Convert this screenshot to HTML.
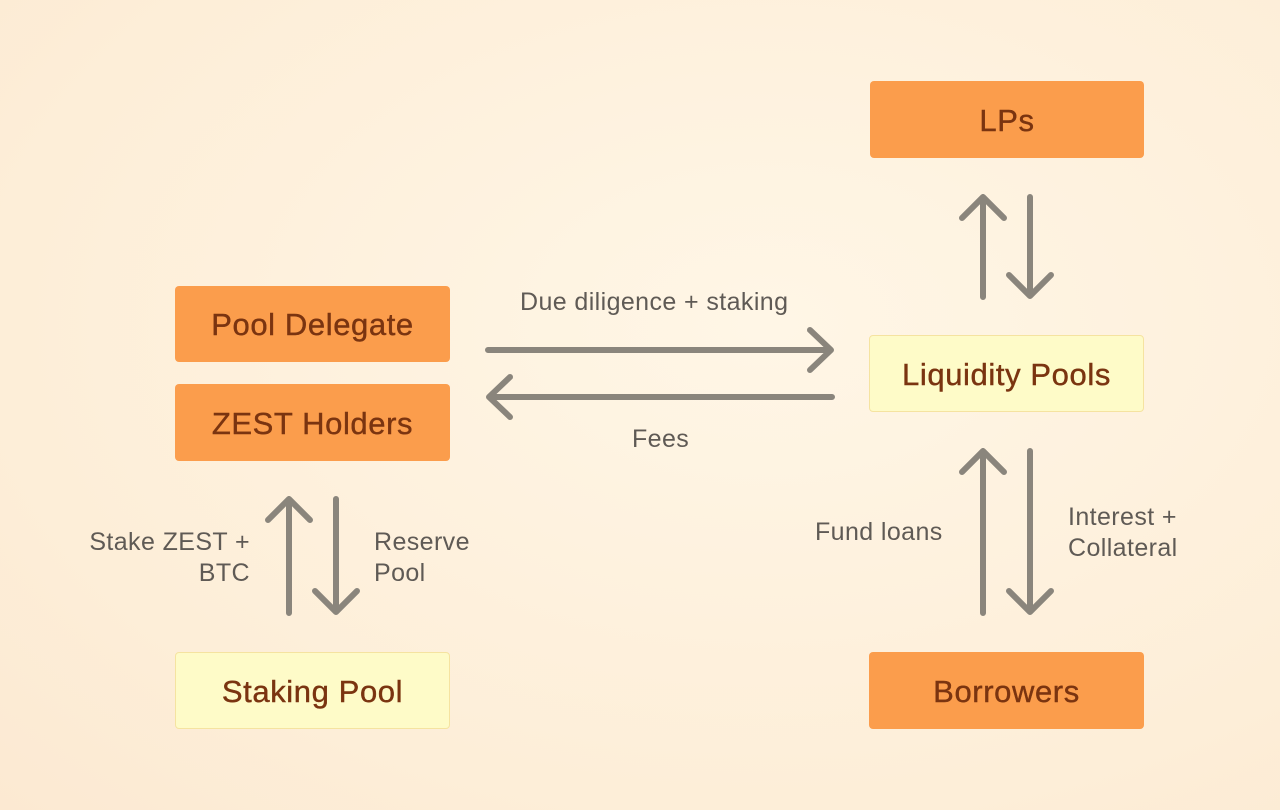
<!DOCTYPE html>
<html><head><style>
body{margin:0;width:1280px;height:810px;overflow:hidden;background:radial-gradient(ellipse at 60% 40%,#fff6e6 0%,#fdeed8 70%,#fce9d2 100%);font-family:"Liberation Sans",sans-serif;position:relative}
.b{position:absolute;display:flex;align-items:center;justify-content:center;font-size:31px;letter-spacing:0.6px;color:#7a3410;border-radius:4px;box-sizing:border-box;padding-top:2px;-webkit-text-stroke:0.4px #7a3410}
.o{background:#fb9d4c}
.y{background:#fefbc8;border:1px solid #f5e3a0}
.t{position:absolute;font-size:25px;letter-spacing:0.4px;color:#5f5a55;line-height:31px}
</style></head><body>
<div class="b o" style="left:175px;top:286px;width:275px;height:76px">Pool Delegate</div>
<div class="b o" style="left:175px;top:384px;width:275px;height:77px">ZEST Holders</div>
<div class="b y" style="left:175px;top:652px;width:275px;height:77px">Staking Pool</div>
<div class="b o" style="left:870px;top:81px;width:274px;height:77px">LPs</div>
<div class="b y" style="left:869px;top:335px;width:275px;height:77px">Liquidity Pools</div>
<div class="b o" style="left:869px;top:652px;width:275px;height:77px">Borrowers</div>
<svg width="1280" height="810" style="position:absolute;left:0;top:0" fill="none" stroke="#8a857c" stroke-width="6" stroke-linecap="round" stroke-linejoin="round">
<path d="M488 350H830M810 330L831 350L810 370"/>
<path d="M832 397H490M510 377L489 397L510 417"/>
<path d="M983 297V197M962 218L983 197L1004 218"/>
<path d="M1030 197V296M1009 275L1030 296L1051 275"/>
<path d="M289 613V499M268 520L289 499L310 520"/>
<path d="M336 499V612M315 591L336 612L357 591"/>
<path d="M983 613V451M962 472L983 451L1004 472"/>
<path d="M1030 451V612M1009 591L1030 612L1051 591"/>
</svg>
<div class="t" style="left:520px;top:287px">Due diligence + staking</div>
<div class="t" style="left:632px;top:424px">Fees</div>
<div class="t" style="left:40px;top:527px;width:210px;text-align:right">Stake ZEST +<br>BTC</div>
<div class="t" style="left:374px;top:527px">Reserve<br>Pool</div>
<div class="t" style="left:815px;top:517px">Fund loans</div>
<div class="t" style="left:1068px;top:502px">Interest +<br>Collateral</div>
</body></html>
